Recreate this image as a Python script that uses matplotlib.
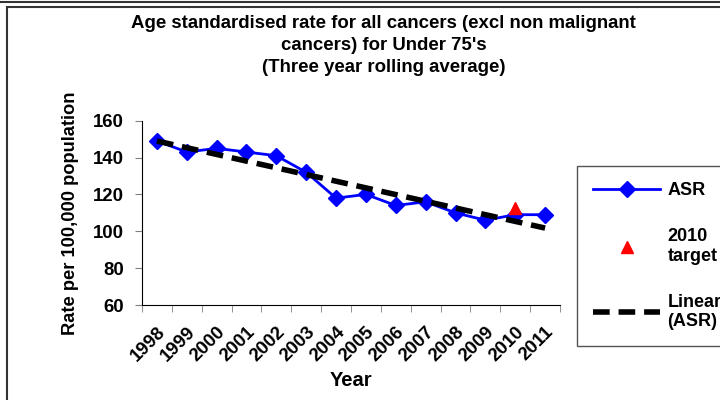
import numpy as np
import matplotlib.pyplot as plt
from matplotlib.patches import Rectangle

plt.rcParams['font.family'] = ['Liberation Sans', 'DejaVu Sans']
plt.rcParams['font.weight'] = 'bold'

years = ['1998', '1999', '2000', '2001', '2002', '2003', '2004',
         '2005', '2006', '2007', '2008', '2009', '2010', '2011']
asr = [149, 143, 145, 143, 141, 132, 118, 120, 114, 116, 110, 106, 109, 109]
target_year = '2010'
target_value = 112.5

x = np.arange(len(years))

fig = plt.figure(figsize=(7.2, 4), dpi=100)
ax = fig.add_axes([142/720, 1 - 305/400, (560 - 142)/720, (305 - 120.7)/400])

ax.plot(x, asr, color='#0000ff', lw=2, marker='D', ms=8, label='ASR')
ax.plot(years.index(target_year), target_value, marker='^', color='red',
        ms=9, ls='none', label='2010\ntarget')

# linear trend line, as Excel adds it
coef = np.polyfit(x, asr, 1)
ax.plot(x, np.polyval(coef, x), color='black', lw=4, ls=(0, (3, 1.6)),
        label='Linear\n(ASR)')

ax.set_xlim(-0.5, len(years) - 0.5)
ax.set_ylim(60, 160)
ax.set_yticks(range(60, 161, 20))
ax.set_xticks(x)
ax.set_xticklabels(years, rotation=45, ha='right', rotation_mode='anchor')
ax.set_xticks(np.arange(-0.5, len(years), 1), minor=True)
ax.tick_params(axis='x', which='major', length=0, labelsize=13.4, pad=13)
ax.tick_params(axis='x', which='minor', length=5, color='#808080')
ax.tick_params(axis='y', length=5, color='#808080', labelsize=13.4, pad=8)
for lbl in ax.get_xticklabels() + ax.get_yticklabels():
    lbl.set_fontweight('bold')
ax.spines['top'].set_visible(False)
ax.spines['right'].set_visible(False)
ax.set_xlabel('Year', fontsize=14.5, fontweight='bold', labelpad=5)
ax.set_ylabel('Rate per 100,000 population', fontsize=13.2, fontweight='bold', labelpad=10)

fig.text(383.5/720, 1 - 15/400,
         "Age standardised rate for all cancers (excl non malignant\ncancers) for Under 75's\n(Three year rolling average)",
         ha='center', va='top', fontsize=13.4, fontweight='bold', linespacing=1.4)

leg = fig.legend(loc='upper left', bbox_to_anchor=(577/720, 1 - 166/400),
                 borderaxespad=0, fontsize=13, handlelength=3.7, handletextpad=0.4,
                 labelspacing=1.6, borderpad=0.9, fancybox=False,
                 edgecolor='#555555', framealpha=1)
for t in leg.get_texts():
    t.set_fontweight('bold')
leg.get_frame().set_linewidth(1)

# outer chart frame
fig.patches.append(Rectangle((7/720, -0.1), 1.0, 1 - 7/400 + 0.1,
                             transform=fig.transFigure, fill=False,
                             edgecolor='#333333', lw=1.5))
fig.patches.append(Rectangle((-0.1, 1 - 2/400), 1.2, 0.1,
                             transform=fig.transFigure, fill=False,
                             edgecolor='#333333', lw=1.5))

fig.savefig('out.png')
